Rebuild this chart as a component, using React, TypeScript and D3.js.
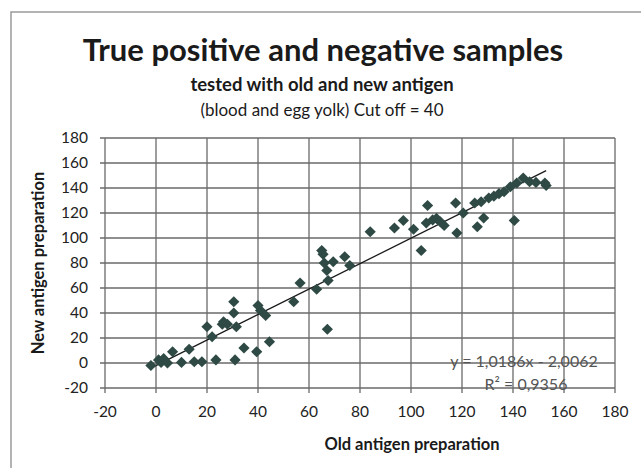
import React, { useEffect, useRef } from "react";
import * as d3 from "d3";

// readings from the scanned chart
const oldAntigen = [
  -2, 1, 2, 3, 4.5, 6.5, 10, 13, 15, 18, 20, 22, 23.5, 26, 26.5, 28, 30.5, 30.5,
  31, 31.5, 34.5, 39.5, 40, 41, 43, 44.5, 54, 56.5, 63, 65, 65.5, 66, 67, 67.5,
  67.2, 69.5, 74, 76, 84, 93.5, 97, 101, 104, 106, 106.5, 108.5, 110, 111.5, 113,
  117.5, 118, 120.5, 125, 126, 127.5, 128.5, 130.5, 132.5, 134.5, 136.5, 139,
  140.5, 141.5, 144, 146.5, 149, 152.5, 153,
];
const newAntigen = [
  -2, 2.5, 0.5, 3.5, 0, 9, 0.5, 11, 1, 1, 29, 21, 2.5, 31, 33, 31, 49, 40, 2.5,
  29, 12, 9, 46, 42, 38, 17, 49, 64, 59, 90, 87, 80, 74, 66, 27, 81, 85, 78, 105,
  108, 114, 107, 90, 112, 126, 114.5, 115.7, 113, 110, 128, 104, 120, 128, 109,
  129, 116, 132, 133.5, 135.5, 137, 141, 114, 144, 148, 145, 144.5, 144, 142,
];
const xTicks = [-20, 0, 20, 40, 60, 80, 100, 120, 140, 160, 180];
const yTicks = [-20, 0, 20, 40, 60, 80, 100, 120, 140, 160, 180];
const slope = 1.0186;
const intercept = -2.0062;
const trendLabel = "y = 1,0186x - 2,0062";
const r2Label = "R² = 0,9356";

const App = () => {
  const svgRef = useRef<SVGSVGElement>(null);

  useEffect(() => {
    const width = 641;
    const height = 468;
    const plot = { left: 105, right: 615, top: 138, bottom: 388 };
    const font = "Lato, 'Open Sans', sans-serif";
    const gridColor = "#6a6a6a";
    const markColor = "#2f4a45";

    const svg = d3.select(svgRef.current);
    svg.selectAll("*").remove();
    svg.attr("width", width).attr("height", height);

    svg.append("rect").attr("width", width).attr("height", height).attr("fill", "#fff");

    // outer frame (only left and top visible in the scan)
    svg
      .append("path")
      .attr("d", `M11,${height} L11,12 L${width},12`)
      .attr("fill", "none")
      .attr("stroke", "#9a9a9a")
      .attr("stroke-width", 1.5);

    const x = d3.scaleLinear().domain([-20, 180]).range([plot.left, plot.right]);
    const y = d3.scaleLinear().domain([-20, 180]).range([plot.bottom, plot.top]);

    // grid
    const grid = svg.append("g").attr("stroke", gridColor).attr("stroke-width", 1.3);
    grid
      .selectAll("line.v")
      .data(xTicks)
      .join("line")
      .attr("class", "v")
      .attr("x1", (d) => x(d))
      .attr("x2", (d) => x(d))
      .attr("y1", plot.top)
      .attr("y2", plot.bottom + 5);
    grid
      .selectAll("line.h")
      .data(yTicks)
      .join("line")
      .attr("class", "h")
      .attr("x1", plot.left - 5)
      .attr("x2", plot.right)
      .attr("y1", (d) => y(d))
      .attr("y2", (d) => y(d));

    // tick labels
    svg
      .append("g")
      .selectAll("text")
      .data(xTicks)
      .join("text")
      .attr("x", (d) => x(d))
      .attr("y", plot.bottom + 29)
      .attr("text-anchor", "middle")
      .attr("font-family", font)
      .attr("font-size", 15.5)
      .attr("fill", "#222")
      .text((d) => d);
    svg
      .append("g")
      .selectAll("text")
      .data(yTicks)
      .join("text")
      .attr("x", plot.left - 17)
      .attr("y", (d) => y(d) + 5)
      .attr("text-anchor", "end")
      .attr("font-family", font)
      .attr("font-size", 15.5)
      .attr("fill", "#222")
      .text((d) => d);

    // trendline
    const xMin = d3.min(oldAntigen) as number;
    const xMax = d3.max(oldAntigen) as number;
    svg
      .append("line")
      .attr("x1", x(xMin))
      .attr("y1", y(slope * xMin + intercept))
      .attr("x2", x(xMax))
      .attr("y2", y(slope * xMax + intercept))
      .attr("stroke", "#1a1a1a")
      .attr("stroke-width", 1.3);

    // points
    const points = oldAntigen.map((o, i) => [o, newAntigen[i]]);
    svg
      .append("g")
      .selectAll("path")
      .data(points)
      .join("path")
      .attr("d", d3.symbol(d3.symbolDiamond2, 80)())
      .attr("transform", ([o, n]) => `translate(${x(o)},${y(n)})`)
      .attr("fill", markColor);

    // trend equation
    const eq = svg
      .append("g")
      .attr("font-family", font)
      .attr("font-size", 16)
      .attr("fill", "#555")
      .attr("text-anchor", "middle");
    eq.append("text").attr("x", 524).attr("y", 367).text(trendLabel);
    eq.append("text").attr("x", 526).attr("y", 390).text(r2Label);

    // titles
    const titles = svg
      .append("g")
      .attr("font-family", font)
      .attr("fill", "#1a1a1a")
      .attr("text-anchor", "middle");
    titles
      .append("text")
      .attr("x", 323)
      .attr("y", 61)
      .attr("font-size", 31)
      .attr("font-weight", "bold")
      .text("True positive and negative samples");
    titles
      .append("text")
      .attr("x", 322)
      .attr("y", 91)
      .attr("font-size", 18.5)
      .attr("font-weight", "bold")
      .text("tested with old and new antigen");
    titles
      .append("text")
      .attr("x", 322)
      .attr("y", 116)
      .attr("font-size", 17)
      .text("(blood and egg yolk) Cut off = 40");

    svg
      .append("text")
      .attr("x", 412)
      .attr("y", 450)
      .attr("text-anchor", "middle")
      .attr("font-family", font)
      .attr("font-size", 16.5)
      .attr("font-weight", "bold")
      .attr("fill", "#1a1a1a")
      .text("Old antigen preparation");
    svg
      .append("text")
      .attr("transform", `translate(44,263) rotate(-90)`)
      .attr("text-anchor", "middle")
      .attr("font-family", font)
      .attr("font-size", 16.5)
      .attr("font-weight", "bold")
      .attr("fill", "#1a1a1a")
      .text("New antigen preparation");
  }, []);

  return <svg ref={svgRef} style={{ position: "absolute", left: 0, top: 0 }}></svg>;
};

export default App;
